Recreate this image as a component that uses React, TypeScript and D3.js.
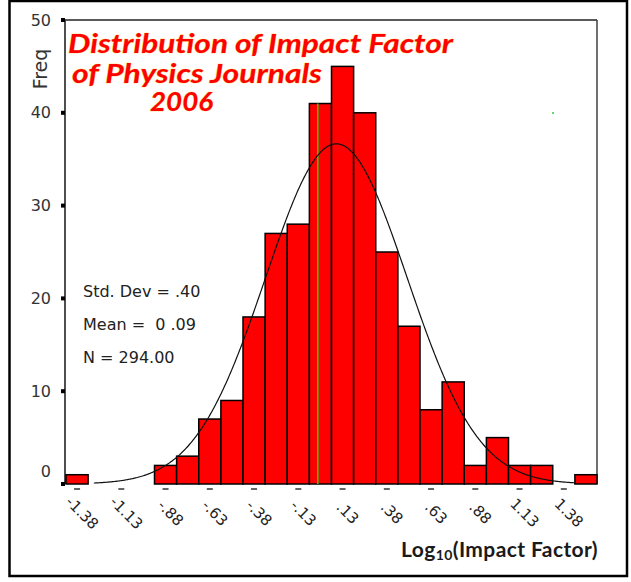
import React from "react";
import * as d3 from "d3";

const binCenters = [-1.375, -1.25, -1.125, -1, -0.875, -0.75, -0.625, -0.5, -0.375, -0.25, -0.125, 0, 0.125, 0.25, 0.375, 0.5, 0.625, 0.75, 0.875, 1, 1.125, 1.25, 1.375, 1.5];
const counts = [1, 0, 0, 0, 2, 3, 7, 9, 18, 27, 28, 41, 45, 40, 25, 17, 8, 11, 2, 5, 2, 2, 0, 1];
const binWidth = 0.125;
const xTickValues = [-1.375, -1.125, -0.875, -0.625, -0.375, -0.125, 0.125, 0.375, 0.625, 0.875, 1.125, 1.375];
const xTickLabels = ["-1.38", "-1.13", "-.88", "-.63", "-.38", "-.13", ".13", ".38", ".63", ".88", "1.13", "1.38"];
const yTicks = [0, 10, 20, 30, 40, 50];
const stdDev = 0.4;
const mean = 0.09;
const nObs = 294;
const curveRange = [-1.28, 1.44];
const markerValue = -0.015;
const titleLines = ["Distribution of Impact Factor", "of Physics Journals", "2006"];
const statLines = ["Std. Dev = .40", "Mean =  0 .09", "N = 294.00"];

export default function App() {
  const x = d3.scaleLinear().domain([-1.4375, 1.5625]).range([66, 597]);
  const y = d3.scaleLinear().domain([0, 50]).range([484, 20]);

  const pdf = (v: number) =>
    (nObs * binWidth) / (stdDev * Math.sqrt(2 * Math.PI)) * Math.exp(-0.5 * ((v - mean) / stdDev) ** 2);
  const pts: [number, number][] = [];
  for (let v = curveRange[0]; v <= curveRange[1] + 1e-9; v += 0.005) pts.push([v, pdf(v)]);
  const line = d3.line<[number, number]>().x((d) => x(d[0])).y((d) => y(d[1]));

  const bars = binCenters.map((c, i) => ({ c, n: counts[i] })).filter((d) => d.n > 0);

  const axisFont = "'DejaVu Sans', Arial, sans-serif";

  return (
    <svg width={631} height={582} style={{ position: "absolute", left: 0, top: 0, background: "#fff" }}>
      <rect x={0} y={0} width={631} height={582} fill="#fff" />
      {/* outer border */}
      <rect x={9.5} y={1} width={617.5} height={575} fill="none" stroke="#000" strokeWidth={2.5} />

      {/* plot frame */}
      <line x1={x.range()[0] - 1} x2={x.range()[1]} y1={y(50)} y2={y(50)} stroke="#222" strokeWidth={1.6} />
      <line x1={x.range()[1]} x2={x.range()[1]} y1={y(50)} y2={y(0)} stroke="#333" strokeWidth={1.4} />
      <line x1={x.range()[0] - 1} x2={x.range()[0] - 1} y1={y(50)} y2={y(0)} stroke="#222" strokeWidth={1.6} />

      {/* bars */}
      {bars.map((d, i) => (
        <rect
          key={i}
          x={x(d.c - binWidth / 2)}
          y={y(d.n)}
          width={x(d.c + binWidth / 2) - x(d.c - binWidth / 2)}
          height={y(0) - y(d.n)}
          fill="#ff0000"
          stroke="#000"
          strokeWidth={1.5}
        />
      ))}

      {/* marker line */}
      <line x1={x(markerValue)} x2={x(markerValue)} y1={y(41)} y2={y(0)} stroke="#33cc00" strokeWidth={1.6} />
      <circle cx={553} cy={113} r={1} fill="#33cc33" />

      {/* normal curve */}
      <path d={line(pts) || ""} fill="none" stroke="#111" strokeWidth={1.2} />

      {/* y axis ticks & labels */}
      {yTicks.map((t) => (
        <g key={t}>
          <rect x={61} y={y(t) - 2} width={4} height={4} fill="#000" />
          <text
            x={51}
            y={t === 0 ? y(t) - 13 : y(t)}
            textAnchor="end"
            dominantBaseline="central"
            fontFamily={axisFont}
            fontSize={16}
            fill="#333"
          >
            {t}
          </text>
        </g>
      ))}
      <text
        transform={`translate(47,69) rotate(-90)`}
        textAnchor="middle"
        fontFamily={axisFont}
        fontSize={19}
        fill="#333"
      >
        Freq
      </text>

      {/* x ticks & labels */}
      {xTickValues.map((t, i) => (
        <g key={t}>
          <line x1={x(t) - 3} x2={x(t) + 3} y1={489} y2={489} stroke="#333" strokeWidth={1.5} />
          <text
            transform={`translate(${x(t) + 5},513) rotate(45)`}
            textAnchor="middle"
            dominantBaseline="central"
            fontFamily={axisFont}
            fontSize={15}
            fill="#222"
          >
            {xTickLabels[i]}
          </text>
        </g>
      ))}

      {/* stats */}
      {statLines.map((s, i) => (
        <text key={i} x={83} y={297 + i * 33} fontFamily={axisFont} fontSize={16} fill="#222" style={{ whiteSpace: "pre" }}>
          {s}
        </text>
      ))}

      {/* title */}
      <g fontFamily="Lato, 'Open Sans', sans-serif" fontWeight="bold" fontStyle="italic" fill="#ff0000" stroke="#ffcc33" strokeWidth={0.6} style={{ paintOrder: "stroke" }}>
        <text x={68} y={53} fontSize={27} textLength={385} lengthAdjust="spacingAndGlyphs">{titleLines[0]}</text>
        <text x={72} y={83} fontSize={26} textLength={250} lengthAdjust="spacingAndGlyphs">{titleLines[1]}</text>
        <text x={150} y={111} fontSize={26} textLength={63} lengthAdjust="spacingAndGlyphs">{titleLines[2]}</text>
      </g>

      {/* x axis title */}
      <text x={598} y={557} textAnchor="end" fontFamily="Lato, 'Open Sans', sans-serif" fontWeight="bold" fontSize={21} letterSpacing={0.4} fill="#1a1a1a">
        Log<tspan fontSize={14} dy={3}>10</tspan><tspan dy={-3}>(Impact Factor)</tspan>
      </text>
    </svg>
  );
}
